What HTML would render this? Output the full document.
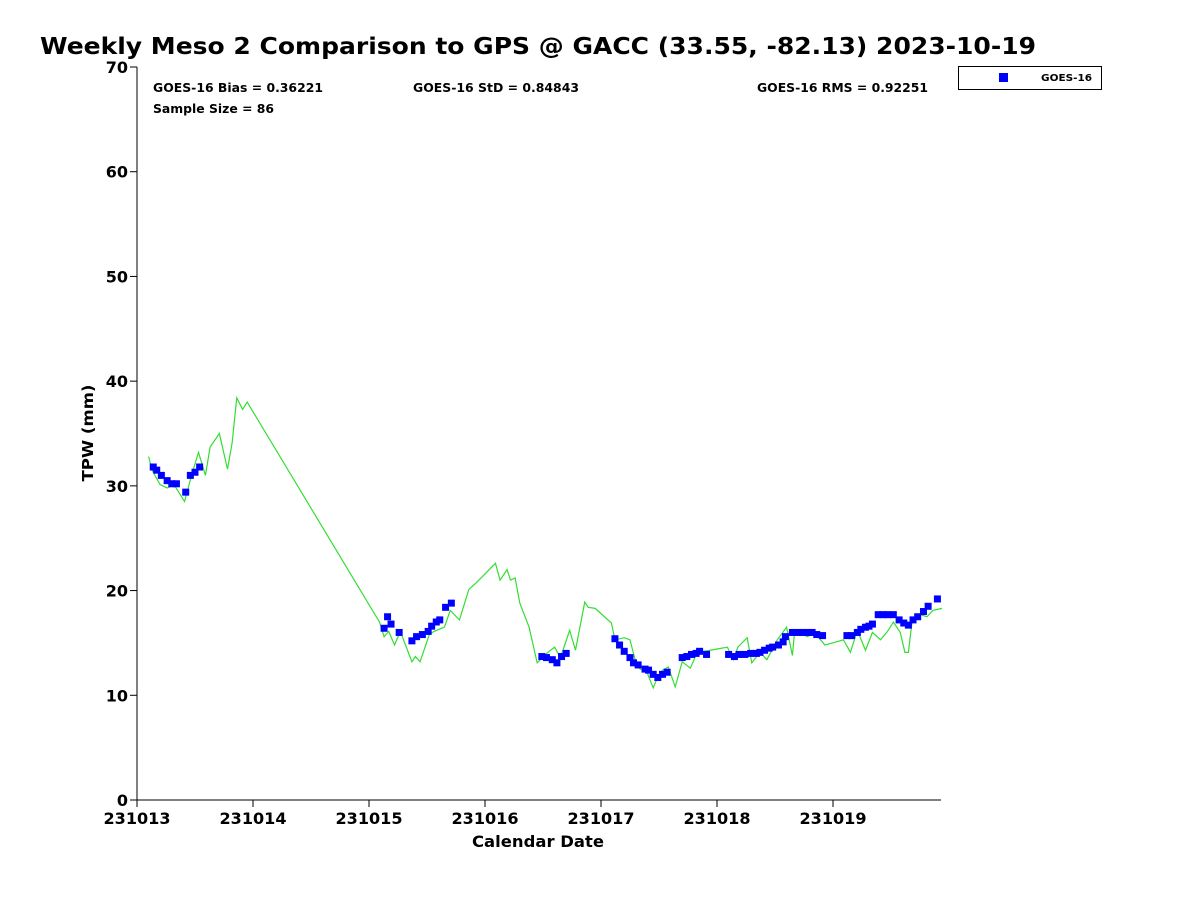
<!DOCTYPE html>
<html><head><meta charset="utf-8"><style>
body{margin:0;background:#fff;}
svg text{font-family:"DejaVu Sans","Liberation Sans",sans-serif;font-weight:bold;}
</style></head><body>
<svg id="chart" width="1200" height="900" xmlns="http://www.w3.org/2000/svg">
<rect width="1200" height="900" fill="#fff"/>
<text x="40" y="54" font-size="23" textLength="996" lengthAdjust="spacingAndGlyphs">Weekly Meso 2 Comparison to GPS @ GACC (33.55, -82.13) 2023-10-19</text>
<text x="153" y="92" font-size="12" textLength="170" lengthAdjust="spacingAndGlyphs">GOES-16 Bias = 0.36221</text>
<text x="413" y="92" font-size="12" textLength="166" lengthAdjust="spacingAndGlyphs">GOES-16 StD = 0.84843</text>
<text x="757" y="92" font-size="12" textLength="171" lengthAdjust="spacingAndGlyphs">GOES-16 RMS = 0.92251</text>
<text x="153" y="113" font-size="12" textLength="121" lengthAdjust="spacingAndGlyphs">Sample Size = 86</text>
<g>
<rect x="958.5" y="66.5" width="143" height="23" fill="#fff" stroke="#000" stroke-width="1"/>
<rect x="999" y="73" width="9" height="9" fill="#0000ff"/>
<text x="1041" y="81" font-size="10" textLength="51" lengthAdjust="spacingAndGlyphs">GOES-16</text>
</g>
<g id="axes"></g>
<g id="marks"></g>
<text transform="translate(93,433) rotate(-90)" text-anchor="middle" font-size="15" textLength="97" lengthAdjust="spacingAndGlyphs">TPW (mm)</text>
<text x="538" y="847" text-anchor="middle" font-size="16" textLength="132" lengthAdjust="spacingAndGlyphs">Calendar Date</text>
</svg>
<script>
const xTickLabels=["231013","231014","231015","231016","231017","231018","231019"];
const yTickLabels=["0","10","20","30","40","50","60","70"];
const gpsDays=[0.10,0.13,0.20,0.26,0.32,0.41,0.47,0.53,0.59,0.63,0.71,0.78,0.82,0.86,0.91,0.95,2.09,2.13,2.17,2.22,2.27,2.37,2.40,2.44,2.52,2.56,2.65,2.70,2.78,2.86,2.93,3.09,3.13,3.19,3.22,3.26,3.30,3.38,3.45,3.53,3.60,3.65,3.73,3.78,3.86,3.89,3.95,4.09,4.12,4.20,4.25,4.31,4.40,4.45,4.48,4.53,4.58,4.64,4.70,4.77,4.83,4.94,5.09,5.14,5.18,5.26,5.30,5.37,5.43,5.52,5.60,5.65,5.67,5.78,5.84,5.93,6.09,6.15,6.21,6.28,6.34,6.41,6.47,6.52,6.58,6.62,6.65,6.68,6.75,6.81,6.86,6.94];
const gpsValues=[32.8,31.5,30.1,29.8,30.1,28.5,31.0,33.2,31.0,33.7,35.0,31.6,34.1,38.4,37.3,38.0,17.0,15.6,16.1,14.8,16.1,13.2,13.7,13.2,15.8,16.1,16.5,18.1,17.2,20.1,20.8,22.6,21.0,22.0,21.0,21.2,18.8,16.5,13.1,14.0,14.6,13.6,16.2,14.3,18.9,18.4,18.3,16.9,15.3,15.5,15.3,12.7,12.1,10.7,11.5,12.4,12.7,10.8,13.2,12.6,14.1,14.3,14.6,13.4,14.6,15.5,13.1,14.1,13.4,15.3,16.5,13.8,16.2,15.6,16.0,14.8,15.3,14.1,16.2,14.3,16.0,15.3,16.1,17.0,16.0,14.1,14.1,16.9,17.7,17.5,18.1,18.3];
const goesDays=[0.14,0.17,0.21,0.26,0.30,0.34,0.42,0.46,0.50,0.54,2.13,2.16,2.19,2.26,2.37,2.41,2.46,2.51,2.54,2.58,2.61,2.66,2.71,3.49,3.53,3.58,3.62,3.66,3.70,4.12,4.16,4.20,4.25,4.28,4.32,4.38,4.41,4.45,4.49,4.53,4.57,4.70,4.74,4.78,4.82,4.85,4.91,5.10,5.15,5.19,5.24,5.29,5.34,5.37,5.41,5.45,5.48,5.53,5.57,5.59,5.65,5.70,5.74,5.78,5.82,5.86,5.91,6.12,6.16,6.21,6.24,6.28,6.31,6.34,6.39,6.43,6.47,6.52,6.57,6.61,6.65,6.69,6.73,6.78,6.82,6.90];
const goesValues=[31.8,31.5,31.0,30.5,30.2,30.2,29.4,31.0,31.3,31.8,16.4,17.5,16.8,16.0,15.2,15.6,15.8,16.1,16.6,17.0,17.2,18.4,18.8,13.7,13.6,13.4,13.1,13.7,14.0,15.4,14.8,14.2,13.6,13.1,12.9,12.5,12.4,12.0,11.7,12.0,12.2,13.6,13.7,13.9,14.0,14.2,13.9,13.9,13.7,13.9,13.9,14.0,14.0,14.1,14.3,14.5,14.6,14.8,15.1,15.6,16.0,16.0,16.0,16.0,16.0,15.8,15.7,15.7,15.7,16.0,16.3,16.5,16.6,16.8,17.7,17.7,17.7,17.7,17.2,16.9,16.7,17.2,17.5,18.0,18.5,19.2];
const X0=137,X1=941,Y0=800,Y1=67;
const xs=d=>X0+d*116;
const ys=v=>Y0-(v/70)*(Y0-Y1);
const NS="http://www.w3.org/2000/svg";
function mk(t,a,p){const e=document.createElementNS(NS,t);for(const k in a)e.setAttribute(k,a[k]);p.appendChild(e);return e;}
const ax=document.getElementById('axes'),mg=document.getElementById('marks');
const yl=mk('line',{x1:X0,y1:Y1,x2:X0,y2:Y0,stroke:'#000','stroke-width':1},ax);


const xl=mk('line',{x1:X0,y1:Y0,x2:X1,y2:Y0,stroke:'#000','stroke-width':1},ax);


yTickLabels.forEach((l,i)=>{const y=ys(+l);
 mk('line',{x1:X0-7,y1:y,x2:X0,y2:y,stroke:'#000'},ax);
 const t=mk('text',{x:X0-9,y:y+6,'text-anchor':'end','font-size':16},ax);t.textContent=l;
 
 });
xTickLabels.forEach((l,i)=>{const x=xs(i);
 mk('line',{x1:x,y1:Y0,x2:x,y2:Y0+7,stroke:'#000'},ax);
 const t=mk('text',{x:x,y:Y0+24,'text-anchor':'middle','font-size':16,textLength:67,lengthAdjust:'spacingAndGlyphs'},ax);t.textContent=l;
 
 });
const pl=mk('polyline',{points:gpsDays.map((d,i)=>xs(d)+','+ys(gpsValues[i])).join(' '),fill:'none',stroke:'#33dd33','stroke-width':1.2},mg);


goesDays.forEach((d,i)=>{const r=mk('rect',{x:xs(d)-3.5,y:ys(goesValues[i])-3.5,width:7,height:7,fill:'#0000ff'},mg);
 
 });
</script>
</body></html>
